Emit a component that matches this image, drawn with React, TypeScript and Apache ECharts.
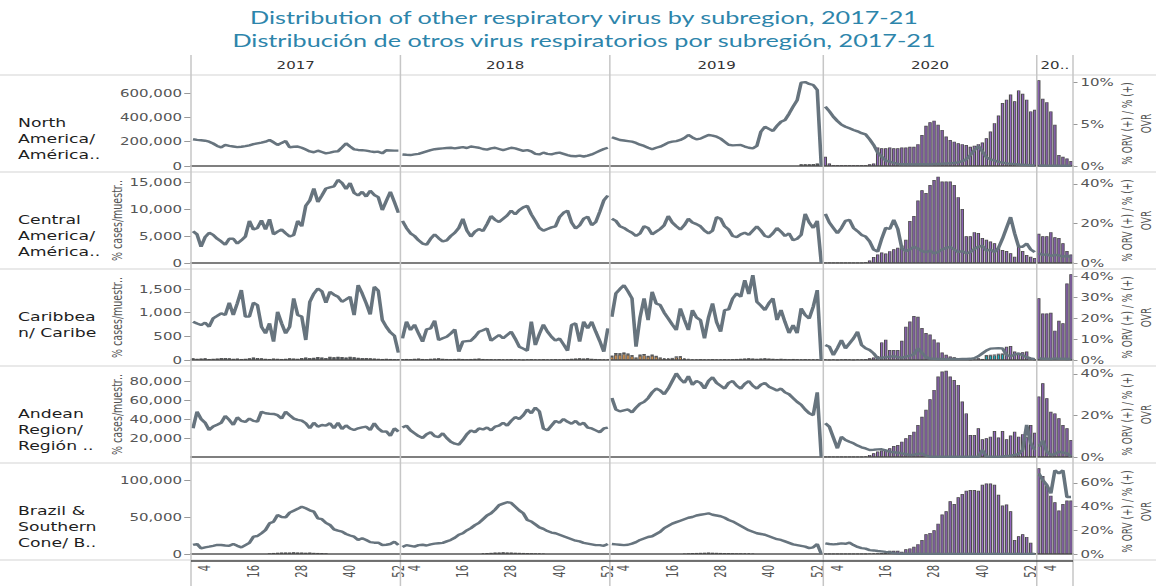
import { useEffect, useRef } from 'react';
import * as echarts from 'echarts';

// Local drawing width; the whole SVG is stretched horizontally like the reference picture.
const W = 770;
const H = 586;
const S = 1156 / W;

const YEARS = ['2017', '2018', '2019', '2020', '2021'];
const YEAR_HEADERS = ['2017', '2018', '2019', '2020', '20..'];
const WEEKS_PER_YEAR = [52, 52, 53, 53, 9];
const LABEL_WEEKS = [4, 16, 28, 40, 52];

const ROW_LABELS = [
  'North\nAmerica/\nAmérica..',
  'Central\nAmerica/\nAmérica..',
  'Caribbea\nn/ Caribe',
  'Andean\nRegion/\nRegión ..',
  'Brazil &\nSouthern\nCone/ B..',
];
const LEFT_TITLE = '% cases/muestr..';
const RIGHT_TITLE = '% ORV (+) / % (+)\nOVR';
const TITLE_EN = 'Distribution of other respiratory virus by subregion, 2017-21';
const TITLE_ES = 'Distribución de otros virus respiratorios por subregión, 2017-21';

// ---------- North America ----------
const na2017 = [220000,215000,212000,208000,200000,185000,165000,153000,173000,165000,160000,155000,158000,163000,170000,180000,186000,192000,200000,214000,195000,173000,190000,205000,153000,158000,160000,150000,135000,120000,113000,126000,115000,104000,110000,118000,121000,153000,186000,160000,137000,132000,130000,126000,120000,115000,118000,104000,130000,128000,126000,126000];
const na2018 = [95000,92000,90000,95000,100000,110000,120000,130000,138000,142000,145000,148000,150000,145000,150000,155000,148000,160000,155000,150000,140000,135000,145000,150000,140000,130000,140000,150000,145000,135000,125000,130000,120000,100000,95000,110000,100000,95000,105000,110000,100000,90000,82000,80000,85000,78000,85000,95000,110000,125000,140000,150000];
const na2019 = [236000,225000,214000,210000,205000,200000,190000,175000,165000,150000,137000,150000,159000,175000,192000,200000,205000,214000,230000,255000,235000,219000,225000,240000,255000,250000,241000,225000,200000,175000,170000,172000,173000,160000,150000,145000,165000,282000,323000,305000,288000,330000,364000,378000,430000,488000,540000,685000,690000,675000,666000,625000,0];
const na2020 = [488000,450000,405000,370000,340000,323000,310000,296000,285000,270000,260000,220000,173000,110000,77000,45000,36000,25000,18000,14000,14000,15000,13000,14000,15000,14000,13000,16000,16000,18000,20000,22000,25000,30000,40000,55000,90000,130000,164000,120000,71000,55000,45000,34000,28000,22000,18000,15000,12000,10000,8000,6000,5000];
const na2021 = [4000,4000,3000,3000,3000,3000,2000,2000,2000];
const naPct2020 = [1.1,0.3,0.1,0.1,0.1,0.1,0.1,0.1,0.1,0.1,0.1,0.2,0.3,2.2,2.1,2.1,2.2,2.1,2.1,2.2,2.2,2.3,2.3,2.6,3.7,4.8,5.2,5.4,4.9,4.3,3.5,3.1,2.9,2.7,2.6,2.5,2.3,2.4,2.6,2.8,3.3,4.1,5.1,6.0,7.5,7.9,8.5,7.7,9.0,8.6,7.9,6.5,6.7];
const naPct2021 = [10.2,8.0,7.6,6.5,4.9,1.3,1.1,0.9,0.6];
const naDark2019Start = 48;
const naDark2019 = [0.2,0.2,0.2,0.25,0.3,0.2];

// ---------- Central America ----------
const ca2017 = [5900,5300,3000,4800,5600,5200,4500,4000,3400,4500,4500,3600,4200,4900,7800,6200,6500,7900,6200,8100,5300,5800,6200,5500,4900,5200,7800,6800,10600,11600,13800,11300,12500,13800,14000,14200,15400,14800,13700,14800,13000,12500,13200,12300,13400,12600,12200,9800,11500,13200,11300,9300];
const ca2018 = [7800,6500,5500,5000,4200,3600,3400,4500,5300,4600,4000,4200,5000,5600,6500,8200,6000,4900,5800,6300,5900,7200,8700,8000,7600,8200,8800,9700,9000,9800,10300,10600,9000,7800,6500,6000,6300,6600,6800,8500,9300,9700,7500,6400,7000,8200,8600,7000,7600,9500,11600,12500];
const ca2019 = [8200,7800,6800,6500,6000,5600,5000,5500,6800,6500,5300,5800,6300,7000,8700,7500,6800,6200,7000,8200,7500,7200,6800,6000,5500,6000,8500,8200,6800,6200,5000,4800,5300,5600,5200,6000,6800,6000,5000,4800,5500,6500,5800,5000,5500,4200,4500,5200,9100,7500,6500,7800,0];
const ca2020 = [9100,7500,6500,5500,6500,7800,8000,6500,5900,5200,4900,4000,2500,2100,4500,6500,6300,8000,6300,2700,2200,2500,3000,2700,2200,2000,2300,1800,2000,2500,2800,3000,2500,2000,2200,1800,2000,2600,3000,3200,2300,2500,2000,2800,4500,6500,8500,5500,3000,3000,3600,2500,2000];
const ca2021 = [1800,1500,1600,1300,1500,1400,1200,1300,1100];
const caPct2020 = [0.1,0.1,0.1,0.1,0.1,0.1,0.1,0.1,0.1,0.2,0.4,1.3,3.0,4.3,5.3,4.8,6.0,6.9,7.7,8.8,11.7,21.2,23.8,31.6,36.8,35.4,39.4,42.0,43.8,41.2,41.2,41.2,39.4,33.3,27.3,13.5,13.5,15.6,15.2,12.6,11.7,10.9,10.0,7.4,6.6,6.1,4.9,3.1,8.3,6.1,4.0,3.1,2.5];
const caPct2021 = [14.8,13.5,13.5,15.6,13.0,12.6,10.0,6.1,4.3];

// ---------- Caribbean ----------
const car2017 = [808,770,738,788,703,879,930,985,950,1209,950,1200,1477,917,917,1209,1160,703,563,774,387,1019,774,563,703,1301,950,917,422,1230,1400,1512,1450,1209,1442,1380,1336,1230,1280,1336,950,1582,1406,1200,964,1547,1463,845,700,584,514,155];
const car2018 = [457,809,633,746,560,387,648,668,830,422,460,492,560,648,176,387,400,408,492,598,630,668,408,470,528,457,530,598,450,281,240,197,809,316,550,746,600,492,408,457,330,197,738,774,387,809,668,809,598,400,176,668];
const car2019 = [914,1407,1500,1582,1450,1301,281,900,1301,844,1442,1196,1160,1000,879,750,633,1090,850,633,1055,900,844,457,900,1196,800,598,1055,1069,1300,1407,1336,1688,1393,1793,1231,1150,1055,1200,1301,844,1055,800,570,738,570,1090,950,879,1126,1477,0];
const car2020 = [316,281,105,250,422,246,350,457,598,316,250,211,140,35,50,60,70,80,60,50,70,90,120,246,150,60,30,25,20,22,18,20,22,18,20,22,25,40,80,140,200,240,246,250,246,105,80,110,140,100,60,35,20];
const car2021 = [40,25,30,20,35,25,30,20,30];
const carPct2020 = [0.3,0.2,0.3,0.2,0.3,0.4,0.3,0.2,0.3,0.3,0.4,0.8,1.2,1.8,8.4,9.7,4.8,4.8,4.8,9.2,15.9,18.3,21.0,20.6,15.2,12.9,12.1,9.8,8.3,3.6,2.5,1.7,1.3,0.8,0.3,0.3,0.1,0.3,0.8,0.5,0.4,0.4,0.4,0.4,0.4,6.3,6.7,4.0,2.9,3.7,4.0,0.3,0.1];
const carPct2021 = [29.4,22.2,22.2,22.5,14.0,18.7,17.5,36.5,40.9];
const carTeal2020Start = 41;
const carTeal2020 = [2.0,2.1,2.2,2.6,2.7];
const carOrange2019 = [1.5,2.5,2.5,2.8,2.5,1.8,0.8,2.0,2.2,1.5,2.0,1.5,0.8,0.6,0.5,0.6,1.2,1.3,0.5,0.3];
const carDark2017 = [0.8,0.6,0.7,0.8,0.5,0.6,0.7,0.9,1.0,0.8,0.6,0.7,0.5,0.6,0.8,1.2,1.0,0.8,0.6,0.5,0.7,0.6,0.5,0.6,0.8,0.7,0.6,0.9,1.2,1.0,1.1,1.4,1.2,1.0,1.5,1.3,1.6,1.4,1.2,1.5,1.3,1.1,1.0,0.9,0.8,0.7,0.6,0.5,0.6,0.5,0.4,0.4];
const carDark2018 = [0.4,0.5,0.4,0.6,0.7,0.5,0.4,0.6,0.7,0.8,0.6,0.5,0.4,0.5,0.6,0.5,0.4,0.5,0.6,0.7,0.5,0.4,0.4,0.3,0.4,0.3,0.3,0.4,0.3,0.3,0.2,0.3,0.4,0.3,0.3,0.4,0.3,0.3,0.4,0.3,0.4,0.5,0.6,0.7,0.8,0.7,0.8,0.6,0.5,0.4,0.3,0.3];
const carDark2019 = [0.6,0.8,0.7,0.8,0.6,0.5,0.4,0.6,0.7,0.5,0.6,0.5,0.4,0.3,0.3,0.4,0.5,0.5,0.3,0.3,0.3,0.3,0.4,0.3,0.3,0.4,0.3,0.3,0.4,0.3,0.4,0.5,0.6,0.7,0.8,0.7,0.6,0.7,0.8,0.7,0.6,0.5,0.6,0.5,0.4,0.5,0.4,0.3,0.4,0.3,0.3,0.3,0.2];

// ---------- Andean Region ----------
const and2017 = [30200,47700,40000,36100,28400,32000,34000,36100,43200,39000,33700,41800,38000,36900,40400,38000,37200,47700,46000,45500,45300,44000,40400,47700,44000,40400,39000,38300,35500,30200,36100,31900,33700,33000,35500,30200,36100,29500,33300,30000,28400,30200,31200,31900,28400,35500,30000,26700,27000,22200,30200,26700];
const and2018 = [31000,33000,28000,25000,22000,20000,24000,26000,22000,21000,25000,20000,16000,14000,13000,18000,24000,28000,26000,30000,29000,31000,28000,32000,33000,36000,33000,38000,42000,40000,44000,50000,46000,52000,48000,30000,28000,33000,38000,36000,40000,37000,35000,38000,34000,36000,31000,30000,28000,26000,30000,31000];
const and2019 = [62000,50000,48000,49000,50000,47000,52000,56000,58000,62000,68000,72000,70000,66000,72000,80000,88000,82000,78000,85000,76000,80000,78000,72000,80000,84000,78000,75000,72000,78000,80000,75000,72000,77000,80000,75000,72000,76000,78000,74000,72000,70000,72000,68000,66000,62000,58000,55000,50000,46000,44000,68000,0];
const and2020 = [35500,31900,20400,9100,21400,18000,16100,14400,12000,10200,9000,7400,7600,8000,8100,7000,5600,5000,4500,3900,3000,2100,2500,3200,3900,1500,300,400,300,200,300,400,300,200,300,400,300,200,300,7400,500,400,300,300,500,1000,1500,2100,3000,7400,33700,14400,7400];
const and2021 = [10800,17200,5600,2100,3000,5600,4500,3900,500];
const andPct2020 = [0.1,0.1,0.2,0.1,0.1,0.2,0.1,0.1,0.2,0.2,0.3,1.0,1.8,2.6,3.1,3.4,4.2,5.3,5.8,7.4,9.0,10.6,12.2,15.4,19.4,22.7,27.8,32.3,38.7,41.1,41.5,38.7,37.1,34.7,26.7,21.0,10.6,10.6,13.8,8.5,9.0,9.8,12.5,9.4,12.5,8.5,10.3,12.2,9.8,11.0,9.5,15.4,11.7];
const andPct2021 = [29.1,35.5,28.3,21.8,21.0,18.6,15.4,13.8,8.2];

// ---------- Brazil & Southern Cone ----------
const br2017 = [12200,13500,7700,9000,9900,11000,12200,12200,11500,11000,13500,11000,9000,12000,15000,23400,24300,28000,32400,41400,43700,52700,50000,49500,55900,58500,61000,63900,61700,59000,57200,48200,47000,42000,39200,33300,31500,30200,27000,25000,23400,18900,21200,18900,16000,15300,15300,12200,12500,13500,16500,12200];
const br2018 = [9500,12000,11000,10000,12000,12500,11500,13000,14000,14500,15000,17000,19000,22000,26000,28000,32000,35000,39000,42000,47000,52000,55000,60000,66000,68000,70000,69000,64000,59000,55000,46000,44000,40000,36000,34000,31000,29000,28000,26000,24000,22000,20000,18000,17000,15000,14000,13000,12000,12000,11000,13500];
const br2019 = [13500,13000,12500,12000,12500,14000,16000,19000,21000,23000,24000,27000,30000,35000,38000,41000,43000,45000,47000,49000,50000,52000,53000,54000,55000,53000,52000,51000,49000,46000,44000,41000,38000,35000,32000,30000,28000,27000,26000,24000,22000,20000,19000,17000,15000,13000,12000,11000,10000,8000,9000,13500,0];
const br2020 = [14400,13500,13000,13500,14400,13800,15300,12000,9600,8000,7300,5300,4800,4000,3600,2800,2200,1200,500,400,300,300,200,300,200,300,200,200,300,200,200,300,200,200,300,200,300,200,200,300,200,200,300,200,200,300,200,200,300,200,200,300,200];
const br2021 = [109000,100000,93000,82000,113000,109000,113000,77000,77000];
const brPct2020 = [0.2,0.2,0.3,0.2,0.2,0.3,0.2,0.2,0.3,0.2,0.3,0.4,0.5,0.6,0.8,1.1,2.8,2.8,2.8,1.9,3.9,4.7,6.1,8.3,11.7,16.7,17.8,20.0,25.6,33.3,36.1,44.4,42.2,47.8,50.5,53.3,53.9,54.0,53.3,58.3,59.4,59.4,58.3,50.0,40.8,41.7,36.1,11.7,15.0,16.7,14.4,9.4,0.5];
const brPct2021 = [72.2,65.7,57.5,49.2,43.6,36.7,42.2,45.0,45.0];
const brDark2017Start = 20;
const brDark2017 = [0.6,0.9,1.1,1.2,1.3,1.2,1.4,1.3,1.2,1.1,1.2,1.0,0.9,0.8,0.6];
const brDark2018Start = 21;
const brDark2018 = [0.5,0.8,1.0,1.2,1.3,1.4,1.3,1.2,1.1,1.0,0.9,0.8,0.7,0.6,0.5,0.4];
const brDark2019Start = 19;
const brDark2019 = [0.4,0.6,0.8,0.9,1.0,1.1,1.2,1.1,1.0,0.9,0.8,0.8,0.7,0.6,0.6,0.5,0.5,0.4];

// ---------- axes ----------
const LEFT_MAX = [707000, 15930, 1817, 90500, 116200];
const RIGHT_MAX = [10.24, 43.5, 41, 41.4, 72.5];
const LEFT_TICKS = [[0, 200000, 400000, 600000], [0, 5000, 10000, 15000], [0, 500, 1000, 1500], [20000, 40000, 60000, 80000], [0, 50000, 100000]];
const RIGHT_TICKS = [[0, 5, 10], [0, 20, 40], [0, 10, 20, 30, 40], [0, 20, 40], [0, 20, 40, 60]];
const SHOW_LEFT_TITLE = [false, true, true, true, false];

// ---------- colours ----------
const LINE_COLOR = '#67747e';
const PURPLE = '#9466c0';
const DARK = '#505c66';
const ORANGE = '#f2a24f';
const TEAL = '#19b0c2';
const BAR_BORDER = '#4a4a4a';
const GRID_COLOR = '#d3d3d3';
const TEXT_COLOR = '#555';
const FONT = 'DejaVu Sans';

type Arr = (number | null)[] | null;

function placeWeeks(n: number, start: number, values: number[]): (number | null)[] {
  const out: (number | null)[] = new Array(n).fill(null);
  values.forEach((v, i) => { out[start - 1 + i] = v; });
  return out;
}

const ROWS: { cases: number[][]; purple: Arr[]; dark: Arr[]; orange: Arr[]; teal: Arr[] }[] = [
  {
    cases: [na2017, na2018, na2019, na2020, na2021],
    purple: [null, null, null, naPct2020, naPct2021],
    dark: [null, null, placeWeeks(53, naDark2019Start, naDark2019), null, null],
    orange: [null, null, null, null, null],
    teal: [null, null, null, null, null],
  },
  {
    cases: [ca2017, ca2018, ca2019, ca2020, ca2021],
    purple: [null, null, null, caPct2020, caPct2021],
    dark: [null, null, null, null, null],
    orange: [null, null, null, null, null],
    teal: [null, null, null, null, null],
  },
  {
    cases: [car2017, car2018, car2019, car2020, car2021],
    purple: [null, null, null, carPct2020, carPct2021],
    dark: [carDark2017, carDark2018, carDark2019, null, null],
    orange: [null, null, placeWeeks(53, 1, carOrange2019), null, null],
    teal: [null, null, null, placeWeeks(53, carTeal2020Start, carTeal2020), null],
  },
  {
    cases: [and2017, and2018, and2019, and2020, and2021],
    purple: [null, null, null, andPct2020, andPct2021],
    dark: [null, null, null, null, null],
    orange: [null, null, null, null, null],
    teal: [null, null, null, null, null],
  },
  {
    cases: [br2017, br2018, br2019, br2020, br2021],
    purple: [null, null, null, brPct2020, brPct2021],
    dark: [placeWeeks(52, brDark2017Start, brDark2017), placeWeeks(52, brDark2018Start, brDark2018), placeWeeks(53, brDark2019Start, brDark2019), null, null],
    orange: [null, null, null, null, null],
    teal: [null, null, null, null, null],
  },
];

// ---------- layout (local, unstretched coordinates) ----------
const GRID_L = 191 / S;
const GRID_R = 1073 / S;
const FIRST_ROW_TOP = 75;
const ROW_H = 97;
const PLOT_PAD = 5;
const PLOT_H = 86;
const HEADER_TOP = 55;
const TOTAL_WEEKS = WEEKS_PER_YEAR.reduce((a, b) => a + b, 0);
const BAND = (GRID_R - GRID_L) / TOTAL_WEEKS;

const CATS: string[] = [];
YEARS.forEach((y, i) => { for (let w = 1; w <= WEEKS_PER_YEAR[i]; w++) CATS.push(`${y}-${w}`); });
const weekOf = (v: string) => Number(String(v).split('-')[1]);

function fullSeries(perYear: Arr[]): (number | null)[] {
  const out: (number | null)[] = [];
  perYear.forEach((arr, i) => {
    for (let w = 0; w < WEEKS_PER_YEAR[i]; w++) out.push(arr ? (arr[w] ?? null) : null);
  });
  return out;
}
function yearOnly(perYear: number[][], yi: number): (number | null)[] {
  return fullSeries(perYear.map((a, i) => (i === yi ? a : null)));
}

function buildOption() {
  const grid: any[] = [];
  const xAxis: any[] = [];
  const yAxis: any[] = [];
  const series: any[] = [];
  const graphic: any[] = [];

  ROWS.forEach((row, r) => {
    const rowTop = FIRST_ROW_TOP + ROW_H * r;
    grid.push({ left: GRID_L, right: W - GRID_R, top: rowTop + PLOT_PAD, height: PLOT_H, containLabel: false, outerBoundsMode: 'none' });
    const last = r === ROWS.length - 1;
    xAxis.push({
      type: 'category', gridIndex: r, data: CATS, boundaryGap: true,
      axisLine: { show: true, lineStyle: { color: '#555', width: 1.5 } },
      axisTick: { show: false },
      splitLine: { show: false },
      axisLabel: last ? {
        show: true, rotate: 90, margin: 11, fontSize: 10, fontFamily: FONT, color: TEXT_COLOR,
        interval: (_i: number, v: string) => LABEL_WEEKS.includes(weekOf(v)),
        formatter: (v: string) => String(weekOf(v)),
      } : { show: false },
    });
    yAxis.push({
      type: 'value', gridIndex: r, position: 'left', min: 0, max: LEFT_MAX[r],
      axisLine: { show: false }, splitLine: { show: false },
      axisTick: { show: true, length: 4.5, lineStyle: { color: '#999' }, customValues: LEFT_TICKS[r] },
      axisLabel: {
        customValues: LEFT_TICKS[r], margin: 6, fontSize: 10, fontFamily: FONT, color: TEXT_COLOR,
        formatter: (v: number) => (LEFT_TICKS[r].includes(v) ? v.toLocaleString('en-US') : ''),
      },
    });
    yAxis.push({
      type: 'value', gridIndex: r, position: 'right', min: 0, max: RIGHT_MAX[r],
      axisLine: { show: false }, splitLine: { show: false },
      axisTick: { show: true, length: 3, lineStyle: { color: '#999' }, customValues: RIGHT_TICKS[r] },
      axisLabel: {
        customValues: RIGHT_TICKS[r], margin: 5, fontSize: 10, fontFamily: FONT, color: TEXT_COLOR,
        formatter: (v: number) => (RIGHT_TICKS[r].includes(v) ? `${v}%` : ''),
      },
    });

    const barBase = {
      type: 'bar', xAxisIndex: r, yAxisIndex: 2 * r + 1, stack: `s${r}`, silent: true,
      barCategoryGap: '16%', z: 2,
    };
    const stacks: [Arr[], string][] = [[row.orange, ORANGE], [row.teal, TEAL], [row.dark, DARK], [row.purple, PURPLE]];
    stacks.forEach(([arr, color]) => {
      if (arr.every((a) => a === null)) return;
      series.push({ ...barBase, data: fullSeries(arr), itemStyle: { color, borderColor: BAR_BORDER, borderWidth: 0.7 } });
    });
    YEARS.forEach((_y, yi) => {
      series.push({
        type: 'line', xAxisIndex: r, yAxisIndex: 2 * r, data: yearOnly(row.cases, yi),
        showSymbol: false, symbol: 'none', connectNulls: false, silent: true, z: 5,
        lineStyle: { color: LINE_COLOR, width: 2.4 },
      });
    });

    // row label
    graphic.push({ type: 'text', x: 12, y: rowTop + 40, z: 20, style: { text: ROW_LABELS[r], fill: '#1e1e1e', fontSize: 11.5, fontFamily: FONT, lineHeight: 16, align: 'left', verticalAlign: 'top' } });
    // axis titles
    if (SHOW_LEFT_TITLE[r]) {
      graphic.push({ type: 'text', x: 117 / S, y: rowTop + ROW_H / 2, rotation: Math.PI / 2, z: 20, style: { text: LEFT_TITLE, fill: TEXT_COLOR, fontSize: 9.5, fontFamily: FONT, align: 'center', verticalAlign: 'middle' } });
    }
    graphic.push({ type: 'text', x: 1137 / S, y: rowTop + ROW_H / 2, rotation: Math.PI / 2, z: 20, style: { text: RIGHT_TITLE, fill: TEXT_COLOR, fontSize: 9, lineHeight: 12.5, fontFamily: FONT, align: 'center', verticalAlign: 'middle' } });
  });

  // separators
  for (let i = 0; i <= ROWS.length; i++) {
    const y = FIRST_ROW_TOP + ROW_H * i;
    graphic.push({ type: 'line', z: 30, shape: { x1: 0, y1: y, x2: W, y2: y }, style: { stroke: GRID_COLOR, lineWidth: 1 } });
  }
  const bottomY = FIRST_ROW_TOP + ROW_H * ROWS.length + 1;
  graphic.push({ type: 'line', z: 31, shape: { x1: GRID_L, y1: bottomY, x2: GRID_R, y2: bottomY }, style: { stroke: '#444', lineWidth: 1.5 } });
  // year dividers and headers
  let cum = 0;
  const xs = [GRID_L];
  WEEKS_PER_YEAR.forEach((n) => { cum += n; xs.push(GRID_L + BAND * cum); });
  xs.forEach((x) => {
    graphic.push({ type: 'line', z: 30, shape: { x1: x, y1: HEADER_TOP, x2: x, y2: H }, style: { stroke: '#c6c6c6', lineWidth: 1 } });
  });
  YEAR_HEADERS.forEach((t, i) => {
    graphic.push({ type: 'text', x: (xs[i] + xs[i + 1]) / 2, y: 65, z: 20, style: { text: t, fill: '#333', fontSize: 10, fontFamily: FONT, align: 'center', verticalAlign: 'middle' } });
  });
  // titles
  graphic.push({ type: 'text', x: 584 / S, y: 18, z: 20, style: { text: TITLE_EN, fill: '#2d85ab', fontSize: 16.8, fontFamily: 'Lato', align: 'center', verticalAlign: 'middle' } });
  graphic.push({ type: 'text', x: 584 / S, y: 41, z: 20, style: { text: TITLE_ES, fill: '#2d85ab', fontSize: 16.8, fontFamily: 'Lato', align: 'center', verticalAlign: 'middle' } });

  return {
    animation: false,
    backgroundColor: '#ffffff',
    grid, xAxis, yAxis, series, graphic,
  };
}

export default function App() {
  const ref = useRef<HTMLDivElement>(null);
  useEffect(() => {
    if (!ref.current) return;
    const chart = echarts.init(ref.current, null, { renderer: 'svg', width: W, height: H });
    chart.setOption(buildOption() as any);
    return () => chart.dispose();
  }, []);
  return (
    <div style={{ position: 'fixed', left: 0, top: 0, width: 1156, height: 586, overflow: 'hidden', background: '#fff' }}>
      <div ref={ref} style={{ width: W, height: H, transform: `scaleX(${S})`, transformOrigin: '0 0' }} />
    </div>
  );
}
